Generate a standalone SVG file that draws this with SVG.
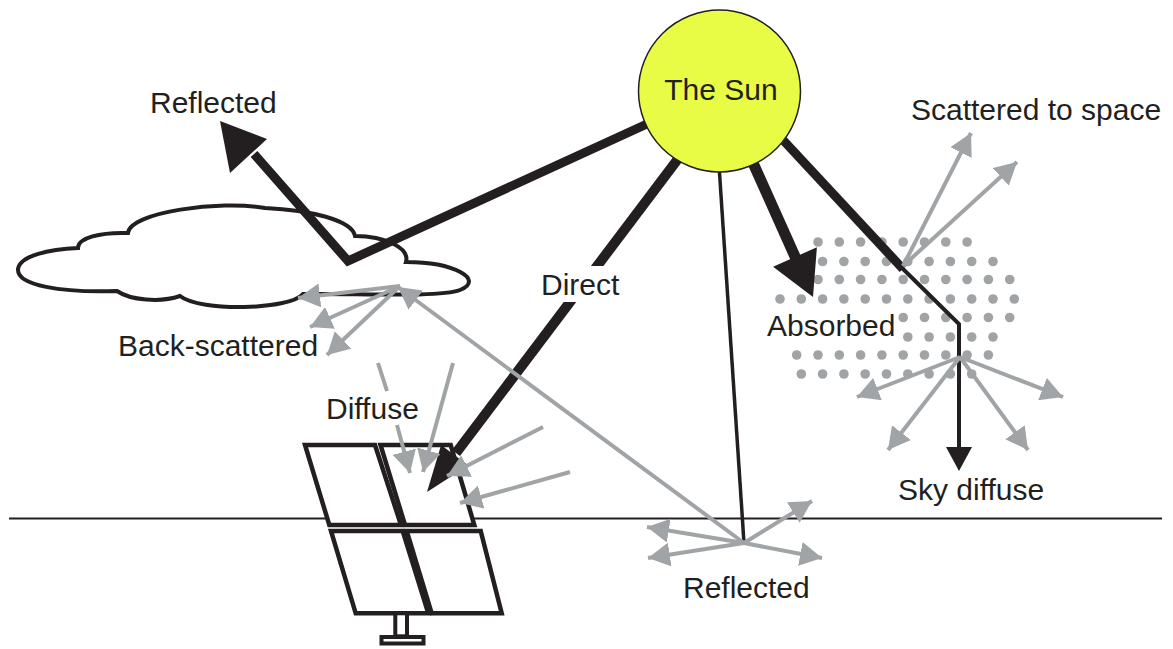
<svg xmlns="http://www.w3.org/2000/svg" width="1173" height="649" viewBox="0 0 1173 649">
  <defs>
    <style>
      .lbl { font-family: "Liberation Sans", Arial, Helvetica, sans-serif; font-size: 30px; fill: #231f20; }
      .ray { fill: none; stroke: #231f20; stroke-linejoin: miter; stroke-miterlimit: 10; }
      .head { fill: #231f20; stroke: none; }
      .gray { fill: none; stroke: #a1a4a6; stroke-width: 4; marker-end: url(#gh); }
      .dot { fill: #a1a4a6; }
      .panel { fill: #ffffff; stroke: #231f20; stroke-width: 4.5; stroke-linejoin: miter; }
    </style>
    <marker id="gh" markerUnits="userSpaceOnUse" viewBox="0 0 22 24" markerWidth="22" markerHeight="24" refX="22" refY="12" orient="auto">
      <path d="M0,0 L22,12 L0,24 z" fill="#a1a4a6"/>
    </marker>
  </defs>

  <rect width="1173" height="649" fill="#ffffff"/>

  <!-- ground -->
  <line id="ground" x1="9" y1="518.5" x2="1162" y2="518.5" stroke="#231f20" stroke-width="1.8"/>

  <!-- cloud -->
  <g id="cloud">
    <path d="M180,296 C160,303 130,300 117,291 C60,293 18,285 18,270 C18,256 50,249 78,248 C78,238 100,232 128,233 C130,212 220,200 265,208 C310,210 352,220 355,236 C385,236 410,248 406,262 C455,262 485,280 460,290 C440,298 350,293 303,294 C290,310 200,312 180,296 z" fill="#ffffff" stroke="#231f20" stroke-width="4"/>
  </g>

  <!-- scattering region -->
  <g id="haze">
    <g class="dot">
      <!-- row 1 -->
      <circle cx="818" cy="242" r="4.8"/><circle cx="839.3" cy="242" r="4.8"/><circle cx="860.6" cy="242" r="4.8"/><circle cx="881.9" cy="242" r="4.8"/><circle cx="903.2" cy="242" r="4.8"/><circle cx="924.5" cy="242" r="4.8"/><circle cx="945.8" cy="242" r="4.8"/><circle cx="967.1" cy="242" r="4.8"/>
      <!-- row 2 -->
      <circle cx="822.6" cy="261.5" r="4.8"/><circle cx="843.9" cy="261.5" r="4.8"/><circle cx="865.2" cy="261.5" r="4.8"/><circle cx="886.5" cy="261.5" r="4.8"/><circle cx="907.8" cy="261.5" r="4.8"/><circle cx="929.1" cy="261.5" r="4.8"/><circle cx="950.4" cy="261.5" r="4.8"/><circle cx="971.7" cy="261.5" r="4.8"/><circle cx="993" cy="261.5" r="4.8"/>
      <!-- row 3 -->
      <circle cx="818" cy="279.5" r="4.8"/><circle cx="839.3" cy="279.5" r="4.8"/><circle cx="860.6" cy="279.5" r="4.8"/><circle cx="881.9" cy="279.5" r="4.8"/><circle cx="903.2" cy="279.5" r="4.8"/><circle cx="924.5" cy="279.5" r="4.8"/><circle cx="945.8" cy="279.5" r="4.8"/><circle cx="967.1" cy="279.5" r="4.8"/><circle cx="988.4" cy="279.5" r="4.8"/><circle cx="1009.7" cy="279.5" r="4.8"/>
      <!-- row 4 -->
      <circle cx="780" cy="299" r="4.8"/><circle cx="801.3" cy="299" r="4.8"/><circle cx="822.6" cy="299" r="4.8"/><circle cx="843.9" cy="299" r="4.8"/><circle cx="865.2" cy="299" r="4.8"/><circle cx="886.5" cy="299" r="4.8"/><circle cx="907.8" cy="299" r="4.8"/><circle cx="929.1" cy="299" r="4.8"/><circle cx="950.4" cy="299" r="4.8"/><circle cx="971.7" cy="299" r="4.8"/><circle cx="993" cy="299" r="4.8"/><circle cx="1014.3" cy="299" r="4.8"/>
      <!-- row 5 -->
      <circle cx="903.2" cy="317.5" r="4.8"/><circle cx="924.5" cy="317.5" r="4.8"/><circle cx="945.8" cy="317.5" r="4.8"/><circle cx="967.1" cy="317.5" r="4.8"/><circle cx="988.4" cy="317.5" r="4.8"/><circle cx="1009.7" cy="317.5" r="4.8"/>
      <!-- row 6 -->
      <circle cx="907.8" cy="337" r="4.8"/><circle cx="929.1" cy="337" r="4.8"/><circle cx="950.4" cy="337" r="4.8"/><circle cx="971.7" cy="337" r="4.8"/><circle cx="993" cy="337" r="4.8"/>
      <!-- row 7 -->
      <circle cx="796.7" cy="355" r="4.8"/><circle cx="818" cy="355" r="4.8"/><circle cx="839.3" cy="355" r="4.8"/><circle cx="860.6" cy="355" r="4.8"/><circle cx="881.9" cy="355" r="4.8"/><circle cx="903.2" cy="355" r="4.8"/><circle cx="924.5" cy="355" r="4.8"/><circle cx="945.8" cy="355" r="4.8"/><circle cx="967.1" cy="355" r="4.8"/><circle cx="988.4" cy="355" r="4.8"/>
      <!-- row 8 -->
      <circle cx="801.3" cy="374" r="4.8"/><circle cx="822.6" cy="374" r="4.8"/><circle cx="843.9" cy="374" r="4.8"/><circle cx="865.2" cy="374" r="4.8"/><circle cx="886.5" cy="374" r="4.8"/><circle cx="907.8" cy="374" r="4.8"/><circle cx="929.1" cy="374" r="4.8"/><circle cx="950.4" cy="374" r="4.8"/><circle cx="971.7" cy="374" r="4.8"/>
    </g>
  </g>

  <!-- solar panel -->
  <g id="solar-panel">
    <polygon class="panel" points="305,445 375,445 401,525 329.3,525"/>
    <polygon class="panel" points="380.5,445 450.7,445 474.3,525 405,525"/>
    <polygon class="panel" points="331,531 402.7,531 428.3,613.3 355.7,613.3"/>
    <polygon class="panel" points="406.7,531 480.7,531 501.7,613.3 431.7,613.3"/>
    <rect x="395.3" y="613.3" width="11.7" height="23" fill="#ffffff" stroke="#231f20" stroke-width="4"/>
    <rect x="381.5" y="637" width="42" height="6.5" fill="#ffffff" stroke="#231f20" stroke-width="4"/>
  </g>

  <!-- rays -->
  <g id="connectors">
    <!-- reflected off the cloud top -->
    <polyline class="ray" stroke-width="9" points="660,118 348,261 254,154"/>
    <polygon class="head" points="220,121 267,139 230,173"/>
    <!-- direct beam, broken behind its label -->
    <line class="ray" stroke-width="10" x1="690" y1="143" x2="456" y2="453"/>
    <polygon class="head" points="427,492 468.3,465.5 441.1,445.1"/>
    <rect x="537" y="266" width="86" height="36" fill="#ffffff"/>
    <!-- ground-reflected beam -->
    <line class="ray" stroke-width="3.5" x1="718" y1="150" x2="744" y2="543"/>
    <!-- absorbed -->
    <line class="ray" stroke-width="11" x1="745" y1="145" x2="797" y2="261"/>
    <polygon class="head" points="813,297 816.9,247.2 773.1,266.8"/>
    <!-- sky diffuse -->
    <line class="ray" stroke-width="9" x1="770" y1="126" x2="903" y2="269"/>
    <polyline class="ray" stroke-width="4" points="901,267 959,324 959,450"/>
    <polygon class="head" points="946,447 972,447 959,471"/>

    <!-- scattered to space -->
    <line class="gray" stroke-width="3" x1="903" y1="266" x2="971" y2="133"/>
    <line class="gray" stroke-width="3" x1="903" y1="266" x2="1017" y2="162"/>
    <!-- sky scatter -->
    <line class="gray" x1="960" y1="357" x2="857" y2="397"/>
    <line class="gray" x1="960" y1="357" x2="888" y2="450"/>
    <line class="gray" x1="960" y1="357" x2="1028" y2="450"/>
    <line class="gray" x1="960" y1="357" x2="1063" y2="397"/>
    <!-- back-scattered from cloud base -->
    <line class="gray" x1="744" y1="543" x2="398" y2="287"/>
    <line class="gray" x1="400" y1="286" x2="298" y2="298"/>
    <line class="gray" x1="400" y1="286" x2="310" y2="327"/>
    <line class="gray" x1="400" y1="286" x2="327" y2="355"/>
    <!-- ground reflections -->
    <line class="gray" x1="744" y1="543" x2="812" y2="501"/>
    <line class="gray" x1="744" y1="543" x2="647" y2="527"/>
    <line class="gray" x1="744" y1="543" x2="648" y2="558"/>
    <line class="gray" x1="744" y1="543" x2="822" y2="558"/>
    <!-- diffuse onto the panel -->
    <path class="gray" d="M378,363 L387,391 M397,425 L410,473"/>
    <line class="gray" x1="453" y1="363" x2="423" y2="472"/>
    <line class="gray" x1="543" y1="427" x2="447" y2="476"/>
    <line class="gray" x1="570" y1="472" x2="460" y2="503"/>
  </g>

  <!-- sun -->
  <g id="sun">
    <circle cx="719.5" cy="91" r="81" fill="#e8fc45" stroke="#231f20" stroke-width="1.5"/>
    <text class="lbl" x="721" y="100" text-anchor="middle">The Sun</text>
  </g>

  <!-- labels -->
  <g id="labels">
    <text class="lbl" x="150" y="112.5">Reflected</text>
    <text class="lbl" x="911" y="120">Scattered to space</text>
    <text class="lbl" x="541" y="294.5">Direct</text>
    <text class="lbl" x="767" y="336">Absorbed</text>
    <text class="lbl" x="118" y="356">Back-scattered</text>
    <text class="lbl" x="326" y="419">Diffuse</text>
    <text class="lbl" x="898" y="500">Sky diffuse</text>
    <text class="lbl" x="683" y="598">Reflected</text>
  </g>
</svg>
